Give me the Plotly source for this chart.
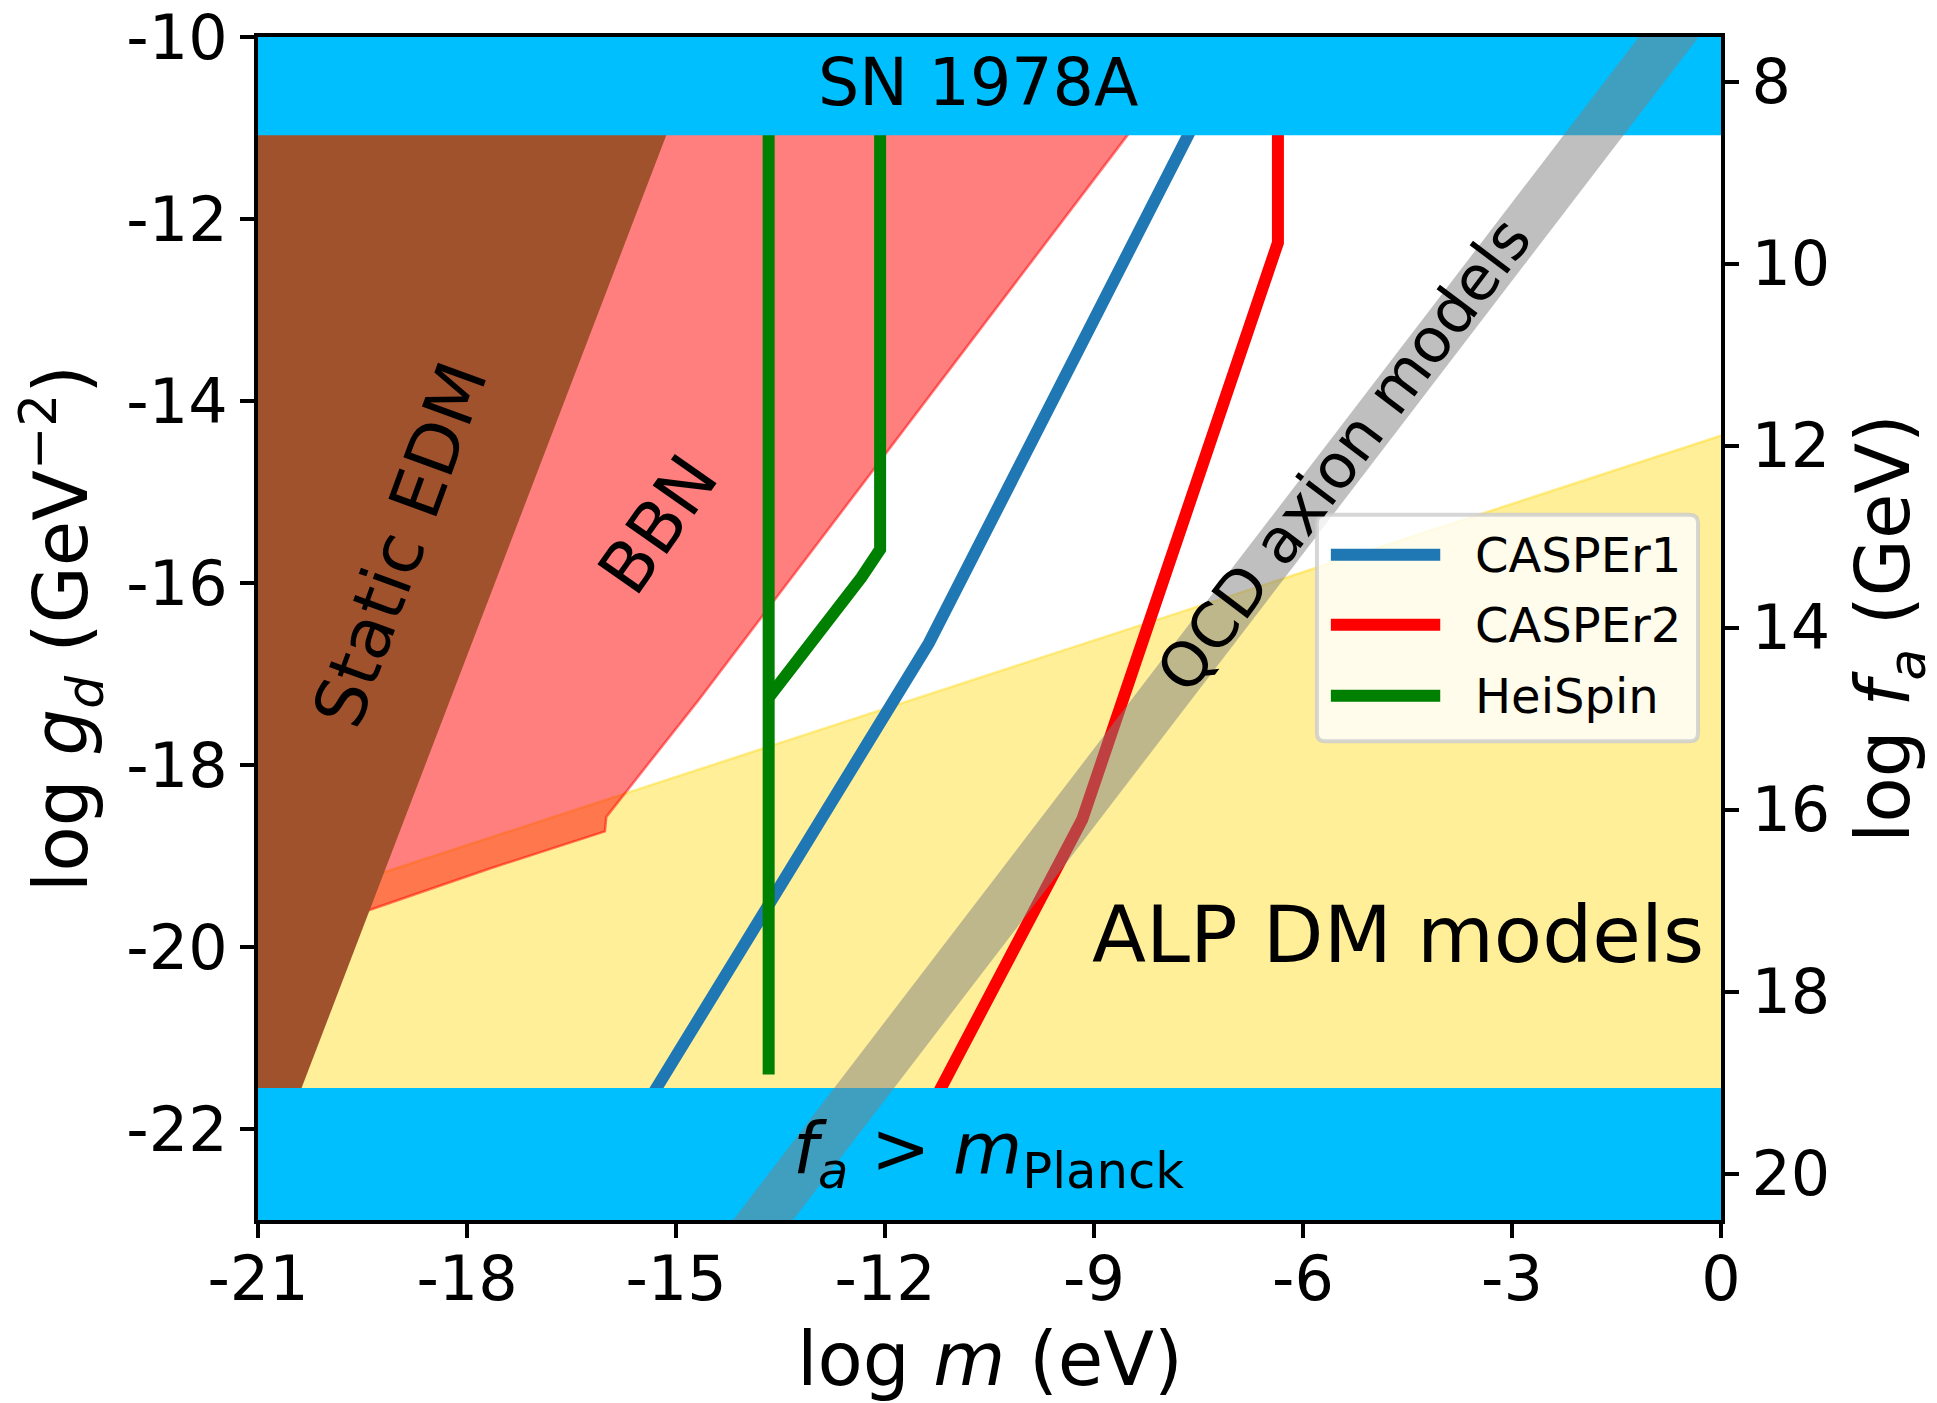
import plotly.graph_objects as go

# ---------------- axes / ticks ----------------
x_range = [-21, 0]
y_range = [-23, -10]
x_ticks = [-21, -18, -15, -12, -9, -6, -3, 0]
x_ticklabels = ['-21', '-18', '-15', '-12', '-9', '-6', '-3', '0']
y_ticks = [-22, -20, -18, -16, -14, -12, -10]
y_ticklabels = ['-22', '-20', '-18', '-16', '-14', '-12', '-10']
fa_offset = -2.49          # log g_d = fa_offset - log f_a
fa_ticks = [8, 10, 12, 14, 16, 18, 20]
fa_ticklabels = ['8', '10', '12', '14', '16', '18', '20']

# ---------------- excluded / model regions ----------------
sn_x = [-22, 1, 1, -22]
sn_y = [-11.08, -11.08, -9, -9]
planck_x = [-22, 1, 1, -22]
planck_y = [-24, -24, -21.55, -21.55]
edm_x = [-22, -14.10, -21.60, -22]
edm_y = [-9, -9, -24, -24]
bbn_x = [-6.44, -8.51, -14.68, -16.00, -16.02, -17.68, -19.39, -22.0, -22.0]
bbn_y = [-9.0, -11.07, -17.29, -18.57, -18.73, -19.14, -19.59, -20.2, -9.0]
alp_x = [-22, 1, 1, -22]
alp_y = [-19.88, -14.13, -24, -24]
qcd_x = [-15.5, 1, 1, -15.5]
qcd_y = [-24.32, -7.82, -8.68, -25.18]

# ---------------- sensitivity curves ----------------
casper1_x = [-15.40, -11.37, -7.53]
casper1_y = [-21.70, -16.66, -10.90]
casper2_x = [-6.36, -6.36, -9.17, -11.30]
casper2_y = [-10.90, -12.26, -18.60, -21.70]
heispin_x = [-13.67, -13.67, None, -12.07, -12.07, -12.34, -13.67]
heispin_y = [-10.90, -21.40, None, -10.90, -15.63, -15.94, -17.26]

series_names = ['CASPEr1', 'CASPEr2', 'HeiSpin']
series_colors = ['#1f77b4', '#ff0000', '#008000']

FONT = 'DejaVu Sans'
fig = go.Figure()

def region(x, y, fill, line_color=None, line_width=0):
    fig.add_trace(go.Scatter(
        x=x, y=y, mode='lines', fill='toself', fillcolor=fill,
        line=dict(color=line_color or 'rgba(0,0,0,0)', width=line_width),
        hoverinfo='skip', showlegend=False))

region(alp_x, alp_y, 'rgba(255,215,0,0.4)', 'rgba(255,215,0,0.4)', 2.5)
region(bbn_x, bbn_y, 'rgba(255,0,0,0.5)', 'rgba(255,0,0,0.5)', 2.5)
region(edm_x, edm_y, '#a0522d')

for xs, ys, nm, col in zip([casper1_x, casper2_x, heispin_x],
                           [casper1_y, casper2_y, heispin_y],
                           series_names, series_colors):
    fig.add_trace(go.Scatter(x=xs, y=ys, mode='lines', name=nm,
                             line=dict(color=col, width=12),
                             connectgaps=False, showlegend=False))

region(sn_x, sn_y, '#00bfff')
region(planck_x, planck_y, '#00bfff')
region(qcd_x, qcd_y, 'rgba(128,128,128,0.5)')

# invisible trace to carry the f_a axis
fig.add_trace(go.Scatter(x=[-21, 0], y=[fa_offset + 10, fa_offset + 23], yaxis='y2',
                         mode='markers', marker=dict(opacity=0), hoverinfo='skip',
                         showlegend=False))

# ---------------- labels inside plot ----------------
labels = [
    dict(text='SN 1978A', x=-10.67, y=-10.50, size=65, angle=0),
    dict(text='Static EDM', x=-18.96, y=-15.58, size=70, angle=-70),
    dict(text='BBN', x=-15.26, y=-15.36, size=70, angle=-55),
    dict(text='QCD axion models', x=-5.41, y=-14.59, size=62, angle=-53),
    dict(text='ALP DM models', x=-4.63, y=-19.87, size=79, angle=0),
    dict(text='<i>f<sub>a</sub></i> &gt; <i>m</i><sub>Planck</sub>', x=-10.51, y=-22.27, size=71, angle=0),
]
for lb in labels:
    fig.add_annotation(x=lb['x'], y=lb['y'], xref='x', yref='y', text=lb['text'],
                       showarrow=False, textangle=lb['angle'],
                       font=dict(family=FONT, size=lb['size'], color='black'),
                       xanchor='center', yanchor='middle')

# x-axis title
fig.add_annotation(x=0.5, y=0, xref='paper', yref='paper', text='log <i>m</i> (eV)',
                   showarrow=False, xanchor='center', yanchor='top', yshift=-94,
                   font=dict(family=FONT, size=74, color='black'))

# ---------------- legend (drawn) ----------------
lx0, lx1, ly0, ly1 = -5.80, -0.33, -15.25, -17.74
rx, ry = 0.12, 0.09
path = (f'M {lx0+rx},{ly0} L {lx1-rx},{ly0} Q {lx1},{ly0} {lx1},{ly0-ry} '
        f'L {lx1},{ly1+ry} Q {lx1},{ly1} {lx1-rx},{ly1} L {lx0+rx},{ly1} '
        f'Q {lx0},{ly1} {lx0},{ly1+ry} L {lx0},{ly0-ry} Q {lx0},{ly0} {lx0+rx},{ly0} Z')
fig.add_shape(type='path', path=path, xref='x', yref='y', layer='above',
              fillcolor='rgba(255,255,255,0.8)', line=dict(color='rgba(204,204,204,0.8)', width=4))
leg_rows = [-15.69, -16.46, -17.24]
for nm, col, yy in zip(series_names, series_colors, leg_rows):
    fig.add_shape(type='line', x0=-5.60, x1=-4.03, y0=yy, y1=yy, xref='x', yref='y',
                  layer='above', line=dict(color=col, width=12))
    fig.add_annotation(x=-3.56, y=yy, xref='x', yref='y', text=nm, showarrow=False,
                       xanchor='left', yanchor='middle',
                       font=dict(family=FONT, size=48, color='black'))

axis_common = dict(showgrid=False, zeroline=False, showline=True, linecolor='black',
                   linewidth=4, ticks='outside', ticklen=14, tickwidth=4, tickcolor='black',
                   automargin=False, ticklabeloverflow='allow',
                   tickfont=dict(family=FONT, size=62, color='black'))

# page body has an 8px default margin: shrink the figure so the plot lands where intended
fig.update_layout(
    width=1929, height=1395,
    margin=dict(l=250, r=216, t=29, b=183),
    paper_bgcolor='white', plot_bgcolor='white',
    showlegend=False,
    font=dict(family=FONT, color='black'),
    xaxis=dict(range=x_range, tickvals=x_ticks, ticktext=x_ticklabels, mirror=True,
               ticklabelstandoff=-12,
               **axis_common),
    yaxis=dict(range=y_range, tickvals=y_ticks, ticktext=y_ticklabels,
               title=dict(text='log <i>g<sub>d</sub></i> (GeV<sup>\u22122</sup>)',
                          font=dict(family=FONT, size=74), standoff=18),
               **axis_common),
    yaxis2=dict(range=[fa_offset - y_range[0], fa_offset - y_range[1]], tickvals=fa_ticks,
                ticktext=fa_ticklabels, overlaying='y', side='right', anchor='x',
                title=dict(text='log <i>f<sub>a</sub></i> (GeV)', font=dict(family=FONT, size=74),
                           standoff=35),
                **axis_common),
)

fig.write_html('out.html')
